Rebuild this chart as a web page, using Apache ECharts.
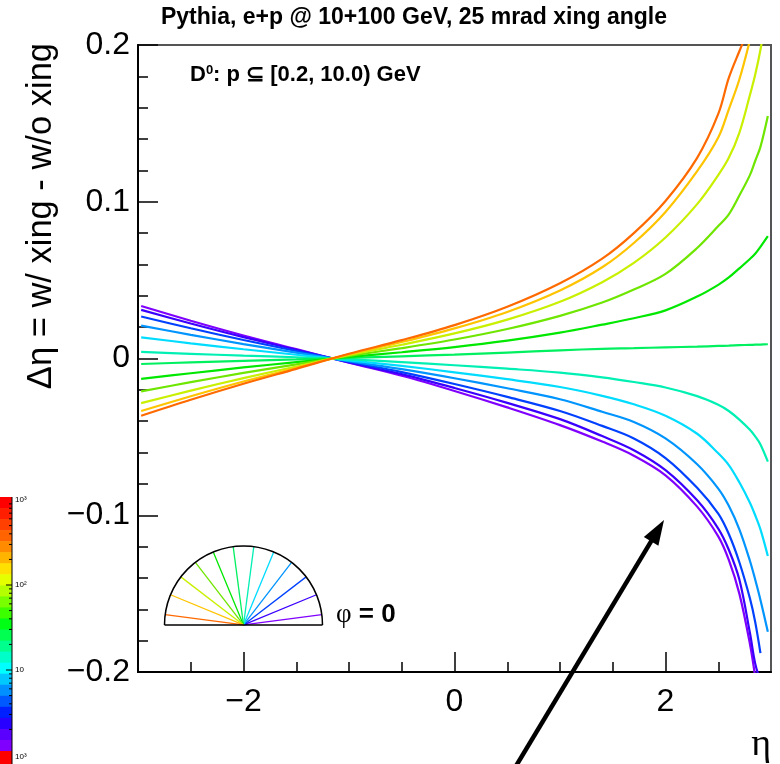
<!DOCTYPE html>
<html>
<head>
<meta charset="utf-8">
<script src="https://cdn.jsdelivr.net/npm/echarts@6/dist/echarts.min.js"></script>
<style>
  html, body { margin: 0; padding: 0; background: #fff; }
  #chart { width: 780px; height: 764px; }
</style>
</head>
<body>
<div id="chart"></div>
<script>
// pseudorapidity sampling points shared by every curve
const ETA = [-2.97, -2.5, -2.0, -1.5, -1.0, -0.5, 0.0, 0.5, 1.0, 1.4, 1.7, 2.0, 2.3, 2.5, 2.6, 2.7, 2.8, 2.85, 2.9, 2.97];

// azimuth of each curve (degrees)
const PHI_DEG = [7.5, 22.5, 37.5, 52.5, 67.5, 82.5, 97.5, 112.5, 127.5, 142.5, 157.5, 172.5];

// delta eta (with crossing - without crossing), one array per azimuth
const DETA_PHI_007 = [0.0335, 0.0241, 0.0147, 0.0060, -0.0027, -0.0110, -0.0207, -0.0312, -0.0425, -0.0530, -0.0620, -0.0745, -0.0945, -0.1135, -0.1285, -0.150, -0.182, -0.203, null, null];
const DETA_PHI_022 = [0.0310, 0.0223, 0.0136, 0.0056, -0.0025, -0.0100, -0.0188, -0.0283, -0.0387, -0.0495, -0.0585, -0.0712, -0.0905, -0.1085, -0.122, -0.141, -0.175, -0.1945, -0.206, null];
const DETA_PHI_037 = [0.0268, 0.0193, 0.0118, 0.0048, -0.0021, -0.0087, -0.0163, -0.0245, -0.0335, -0.0430, -0.0510, -0.0635, -0.0825, -0.0990, -0.112, -0.130, -0.153, -0.168, -0.188, null];
const DETA_PHI_052 = [0.0210, 0.0151, 0.0092, 0.0038, -0.0017, -0.0068, -0.0126, -0.0190, -0.0260, -0.0340, -0.0405, -0.0510, -0.0675, -0.0830, -0.094, -0.109, -0.129, -0.141, -0.154, -0.1743];
const DETA_PHI_067 = [0.0135, 0.0097, 0.0059, 0.0024, -0.0012, -0.0047, -0.0088, -0.0132, -0.0182, -0.0238, -0.0292, -0.0365, -0.0480, -0.0605, -0.068, -0.079, -0.092, -0.100, -0.109, -0.126];
const DETA_PHI_082 = [0.0042, 0.0030, 0.0018, 0.0008, -0.0006, -0.0023, -0.0043, -0.0065, -0.0090, -0.0120, -0.0150, -0.0185, -0.0240, -0.0295, -0.0335, -0.039, -0.0455, -0.0497, -0.0548, -0.0658];
const DETA_PHI_097 = [-0.0035, -0.0025, -0.0015, -0.0006, 0.0004, 0.0014, 0.0025, 0.0038, 0.0052, 0.0062, 0.0066, 0.0071, 0.0076, 0.0080, 0.0082, 0.0085, 0.0087, 0.0088, 0.0089, 0.0091];
const DETA_PHI_112 = [-0.0130, -0.0094, -0.0057, -0.0023, 0.0010, 0.0040, 0.0073, 0.0114, 0.0165, 0.0216, 0.0257, 0.0307, 0.0395, 0.0470, 0.0517, 0.0575, 0.0635, 0.0668, 0.0712, 0.0780];
const DETA_PHI_127 = [-0.0210, -0.0151, -0.0092, -0.0038, 0.0017, 0.0066, 0.0121, 0.0188, 0.0272, 0.0357, 0.0440, 0.0540, 0.0705, 0.0845, 0.092, 0.104, 0.117, 0.126, 0.135, 0.1547];
const DETA_PHI_142 = [-0.0285, -0.0205, -0.0125, -0.0051, 0.0023, 0.0088, 0.0160, 0.0248, 0.0362, 0.0487, 0.0610, 0.0772, 0.0985, 0.117, 0.128, 0.144, 0.168, 0.181, 0.197, 0.225];
const DETA_PHI_157 = [-0.0335, -0.0241, -0.0147, -0.0060, 0.0027, 0.0105, 0.0192, 0.0297, 0.0434, 0.0582, 0.0737, 0.0935, 0.1195, 0.141, 0.159, 0.178, 0.203, 0.218, null, null];
const DETA_PHI_172 = [-0.0365, -0.0263, -0.0161, -0.0066, 0.0030, 0.0117, 0.0213, 0.0330, 0.0480, 0.0637, 0.0800, 0.1005, 0.128, 0.156, 0.179, 0.196, 0.212, null, null, null];

const CURVES = [DETA_PHI_007, DETA_PHI_022, DETA_PHI_037, DETA_PHI_052, DETA_PHI_067, DETA_PHI_082,
                DETA_PHI_097, DETA_PHI_112, DETA_PHI_127, DETA_PHI_142, DETA_PHI_157, DETA_PHI_172];

// rainbow colours, one per azimuth
const LINE_COLORS = ['#8000ff', '#3a00ff', '#0040ff', '#0094ff', '#00dcff', '#00f0b4',
                     '#00f060', '#00e800', '#6ee600', '#c8f000', '#ffc400', '#ff6a00'];

// axis ticks
const X_MAJOR = [-2, 0, 2];
const X_MINOR = [-2.5, -1.5, -1, -0.5, 0.5, 1, 1.5, 2.5];

// centre of the azimuth wheel, in (eta, delta eta)
const WHEEL_CENTER = [-2, -0.17];

// leftover colour-palette strip at the left edge
const PALETTE = ['#ff0000', '#ff1e00', '#ff4000', '#ff6400', '#ff8c00', '#ffb400', '#ffe000', '#e6ff00',
                 '#b4ff00', '#78ff00', '#3cff00', '#00ff14', '#00ff50', '#00ff8c', '#00ffc8', '#00ffff',
                 '#00c8ff', '#0090ff', '#0058ff', '#0020ff', '#2800ff', '#5a00ff', '#8000ff'];
const PALETTE_LABELS = ['10\u00b3', '10\u00b2', '10', '10\u00b3'];

const SANS = "'Liberation Sans', Helvetica, Arial, sans-serif";
const SERIF = "'Liberation Serif', 'DejaVu Serif', serif";

const chart = echarts.init(document.getElementById('chart'), null, { renderer: 'canvas' });

function minus(s) { return String(s).replace('-', '\u2212'); }

const series = CURVES.map((vals, i) => ({
  name: '\u03c6 = ' + PHI_DEG[i] + '\u00b0',
  type: 'line',
  xAxisIndex: 0,
  yAxisIndex: 0,
  data: ETA.map((x, k) => [x, vals[k]]).filter(p => p[1] !== null),
  showSymbol: false,
  smooth: 0.35,
  clip: true,
  lineStyle: { color: LINE_COLORS[i], width: 2.2 },
  itemStyle: { color: LINE_COLORS[i] },
  z: 3 + i
}));

chart.setOption({
  animation: false,
  backgroundColor: '#ffffff',
  grid: { left: 138, right: 9, top: 45, bottom: 92, show: true, borderColor: '#555', borderWidth: 2, backgroundColor: 'transparent' },
  xAxis: [
    {
      type: 'value', min: -3, max: 3, position: 'bottom',
      axisLine: { show: true, onZero: false, lineStyle: { color: '#000', width: 2 } },
      axisTick: { show: true, inside: true, length: 20, customValues: X_MAJOR, lineStyle: { color: '#000', width: 1.5 } },
      axisLabel: { show: true, customValues: X_MAJOR, formatter: v => minus(v), fontSize: 32, fontFamily: SANS, color: '#000', margin: 14 },
      splitLine: { show: false }
    },
    {
      type: 'value', min: -3, max: 3, position: 'bottom',
      axisLine: { show: false, onZero: false },
      axisTick: { show: true, inside: true, length: 10, customValues: X_MINOR, lineStyle: { color: '#000', width: 1.5 } },
      axisLabel: { show: false },
      splitLine: { show: false }
    }
  ],
  yAxis: {
    type: 'value', min: -0.2, max: 0.2, interval: 0.1,
    axisLine: { show: true, onZero: false, lineStyle: { color: '#000', width: 2 } },
    axisTick: { show: true, inside: true, length: 20, lineStyle: { color: '#000', width: 1.5 } },
    minorTick: { show: true, splitNumber: 5, length: 10, lineStyle: { color: '#000', width: 1.5 } },
    axisLabel: {
      fontSize: 32, fontFamily: SANS, color: '#000', margin: 8, showMinLabel: true, showMaxLabel: true,
      formatter: v => (Math.abs(v) < 1e-9 ? '0' : minus(v.toFixed(1)))
    },
    splitLine: { show: false },
    minorSplitLine: { show: false }
  },
  series: series
});

// decorations drawn in pixel space
function buildGraphics() {
  const g = [];

  // palette strip
  const top = 497, bottom = 751, w = 12;
  const h = (bottom - top) / PALETTE.length;
  PALETTE.forEach((col, i) => {
    g.push({ type: 'rect', silent: true, shape: { x: 0, y: top + i * h, width: w, height: h + 0.6 }, style: { fill: col } });
  });
  g.push({ type: 'rect', silent: true, shape: { x: 0, y: bottom, width: w, height: 764 - bottom }, style: { fill: '#ff0000' } });
  g.push({ type: 'line', silent: true, shape: { x1: w, y1: top, x2: w, y2: 764 }, style: { stroke: '#000', lineWidth: 1 } });
  const decade = 85, y10 = 670;
  for (let e = 0; e < 3; e++) {
    for (let k = 1; k <= 9; k++) {
      const y = y10 - decade * (e - 1 + Math.log10(k));
      if (y < top || y > bottom) continue;
      const len = k === 1 ? 6 : 3;
      g.push({ type: 'line', silent: true, shape: { x1: w - len, y1: y, x2: w, y2: y }, style: { stroke: '#000', lineWidth: 1 } });
    }
  }
  const labelY = [500, 585, 670, 757];
  PALETTE_LABELS.forEach((t, i) => {
    g.push({ type: 'text', silent: true, style: { text: t, x: 15, y: labelY[i], fill: '#000', fontSize: 8, fontFamily: SANS, textAlign: 'left', textVerticalAlign: 'middle' } });
  });

  // title
  g.push({ type: 'text', silent: true, style: {
    text: 'Pythia, e+p @ 10+100 GeV, 25 mrad xing angle', x: 414, y: 18,
    fill: '#000', fontSize: 23, fontWeight: 'bold', fontFamily: SANS, textAlign: 'center', textVerticalAlign: 'middle' } });

  // momentum range label
  g.push({ type: 'text', silent: true, style: {
    text: '{b|D}{s|0}{b|: p \u2286 [0.2, 10.0) GeV}', x: 190, y: 75, textAlign: 'left', textVerticalAlign: 'middle',
    rich: {
      b: { fontSize: 22, fontWeight: 'bold', fontFamily: SANS, fill: '#000', verticalAlign: 'bottom' },
      s: { fontSize: 13, fontWeight: 'bold', fontFamily: SANS, fill: '#000', verticalAlign: 'top' }
    } } });

  // y-axis title
  g.push({ type: 'text', silent: true, x: 41, y: 43, rotation: Math.PI / 2, style: {
    text: '\u0394\u03b7 = w/ xing - w/o xing', x: 0, y: 0, fill: '#000', fontSize: 34.5, fontFamily: SANS,
    textAlign: 'right', textVerticalAlign: 'middle' } });

  // x-axis title
  g.push({ type: 'text', silent: true, style: {
    text: '\u03b7', x: 771, y: 745, fill: '#000', fontSize: 38, fontFamily: SERIF, textAlign: 'right', textVerticalAlign: 'middle' } });

  // azimuth wheel
  const c = chart.convertToPixel({ xAxisIndex: 0, yAxisIndex: 0 }, WHEEL_CENTER);
  const r = 79;
  PHI_DEG.forEach((p, i) => {
    const a = p * Math.PI / 180;
    g.push({ type: 'line', silent: true, shape: { x1: c[0], y1: c[1], x2: c[0] + r * Math.cos(a), y2: c[1] - r * Math.sin(a) },
      style: { stroke: LINE_COLORS[i], lineWidth: 1.3 } });
  });
  g.push({ type: 'arc', silent: true, shape: { cx: c[0], cy: c[1], r: r, startAngle: Math.PI, endAngle: 2 * Math.PI, clockwise: true },
    style: { stroke: '#000', lineWidth: 1.5, fill: null } });
  g.push({ type: 'line', silent: true, shape: { x1: c[0] - r, y1: c[1], x2: c[0] + r, y2: c[1] }, style: { stroke: '#000', lineWidth: 1.5 } });
  g.push({ type: 'text', silent: true, style: {
    text: '{p|\u03c6}{b| = 0}', x: 336, y: 615, textAlign: 'left', textVerticalAlign: 'middle',
    rich: {
      p: { fontSize: 27, fontFamily: SERIF, fill: '#000' },
      b: { fontSize: 26, fontWeight: 'bold', fontFamily: SANS, fill: '#000' }
    } } });

  // arrow
  const tail = [516, 766], tip = [664, 520];
  const dx = tip[0] - tail[0], dy = tip[1] - tail[1];
  const L = Math.hypot(dx, dy), ux = dx / L, uy = dy / L;
  const headLen = 25, headHalf = 8.5;
  const bx = tip[0] - ux * headLen, by = tip[1] - uy * headLen;
  g.push({ type: 'line', silent: true, shape: { x1: tail[0], y1: tail[1], x2: bx + ux * 2, y2: by + uy * 2 }, style: { stroke: '#000', lineWidth: 4.5 } });
  g.push({ type: 'polygon', silent: true, shape: { points: [tip, [bx - uy * headHalf, by + ux * headHalf], [bx + uy * headHalf, by - ux * headHalf]] },
    style: { fill: '#000' } });

  return g;
}

chart.setOption({ graphic: buildGraphics() });
</script>
</body>
</html>
